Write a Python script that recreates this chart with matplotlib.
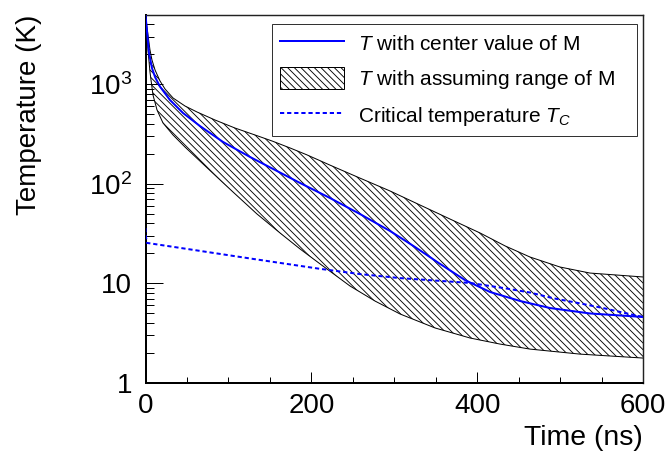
import matplotlib
matplotlib.use("Agg")
import matplotlib.pyplot as plt
from matplotlib.patches import Patch
from matplotlib.lines import Line2D
from matplotlib.ticker import FixedLocator, FixedFormatter, MultipleLocator

# ---------------- data ----------------
t_center = [0, 4.2, 7.8, 11.5, 17.5, 29.5, 45.2, 65.7, 93.5, 126.0, 153.8, 186.3,
            222.5, 258.7, 294.9, 325.0, 355.2, 385.3, 415.5, 451.7, 487.8, 536.1, 600]
T_center = [4950, 2057, 1455, 1180, 945, 694, 514, 380, 263, 186, 141, 102,
            72, 49.7, 33.6, 23.2, 15.7, 10.8, 8.2, 6.66, 5.66, 4.99, 4.6]

t_upper = [0, 3.0, 5.4, 7.8, 11.5, 17.5, 23.5, 33.2, 47.6, 62.1, 83.8, 107.9, 132.1,
           152.6, 174.3, 194.8, 222.5, 258.7, 294.9, 331.1, 367.2, 403.4, 433.6,
           463.7, 499.9, 536.1, 600]
T_upper = [4950, 3120, 2205, 1750, 1389, 1077, 896, 727, 604, 526, 437, 363, 309,
           269, 229, 195, 154, 114, 84.7, 61.2, 44.3, 32.1, 23.8,
           18.4, 14.6, 12.7, 11.6]

t_lower = [0, 3.0, 5.4, 9.0, 13.9, 21.1, 33.2, 47.6, 65.7, 83.8, 105.5, 134.4,
           162.2, 186.3, 210.5, 246.6, 276.8, 307.0, 349.2, 391.4, 427.5, 463.7,
           524.0, 600]
T_lower = [4950, 2205, 1325, 780, 551, 408, 309, 234, 169, 122, 82.8, 49.8,
           32.1, 22.2, 15.7, 9.42, 6.65, 4.93, 3.57, 2.83, 2.46, 2.19,
           1.95, 1.78]

t_crit = [0, 0.3, 1.8, 65.7, 126.0, 210.5, 258.7, 307.0, 355.2, 391.4, 431.2,
          463.7, 491.5, 524.0, 551.8, 578.3, 600]
T_crit = [36, 30, 25.5, 21.2, 17.8, 14.0, 12.4, 11.3, 10.6, 10.1, 9.0,
          8.1, 7.1, 6.3, 5.66, 5.04, 4.6]

x_ticks = [0, 200, 400, 600]
x_tick_labels = ["0", "200", "400", "600"]
y_ticks = [1, 10, 100, 1000]
y_tick_labels = ["1", "10", "$10^{2}$", "$10^{3}$"]

legend_labels = ["$T$ with center value of M",
                 "$T$ with assuming range of M",
                 "Critical temperature $T_{C}$"]

# ---------------- style ----------------
DPI = 80
HATCH = "\\\\\\\\"
plt.rcParams["font.family"] = ["Liberation Sans", "DejaVu Sans"]
plt.rcParams["mathtext.fontset"] = "custom"
plt.rcParams["mathtext.rm"] = "Liberation Sans"
plt.rcParams["mathtext.it"] = "Liberation Sans:italic"
plt.rcParams["mathtext.bf"] = "Liberation Sans:bold"
plt.rcParams["hatch.linewidth"] = 0.8
plt.rcParams["lines.scale_dashes"] = False
DASH = (0, (3.8, 2.6))

fig = plt.figure(figsize=(669 / DPI, 453 / DPI), dpi=DPI)
fig.patch.set_facecolor("white")
ax = fig.add_axes([145.5 / 669, 1 - 383 / 453, (643 - 145.5) / 669, (383 - 15) / 453])

# hatched band between the upper and lower boundaries
poly_t = list(t_upper) + list(t_lower)[::-1]
poly_T = list(T_upper) + list(T_lower)[::-1]
ax.fill(poly_t, poly_T, facecolor="none", edgecolor="black", hatch=HATCH,
        linewidth=0, zorder=1)
ax.plot(t_upper, T_upper, color="black", lw=0.9, zorder=2)
ax.plot(t_lower, T_lower, color="black", lw=0.9, zorder=2)
ax.plot(t_crit, T_crit, color="blue", lw=1.8, linestyle=DASH, zorder=3)
ax.plot(t_center, T_center, color="blue", lw=1.8, zorder=4)

ax.set_yscale("log")
ax.set_xlim(0, 600)
ax.set_ylim(1, 4950)

ax.xaxis.set_major_locator(FixedLocator(x_ticks))
ax.xaxis.set_major_formatter(FixedFormatter(x_tick_labels))
ax.xaxis.set_minor_locator(MultipleLocator(50))
ax.yaxis.set_major_locator(FixedLocator(y_ticks))
ax.yaxis.set_major_formatter(FixedFormatter(y_tick_labels))
minor_y = [m * 10 ** d for d in range(0, 4) for m in range(2, 10) if m * 10 ** d < 4950]
ax.yaxis.set_minor_locator(FixedLocator(minor_y))
ax.yaxis.set_minor_formatter(FixedFormatter([""] * len(minor_y)))

ax.tick_params(axis="both", which="both", direction="in", top=False, right=False,
               width=0.9, color="black", labelsize=25)
ax.tick_params(axis="x", which="major", length=10, pad=9)
ax.tick_params(axis="x", which="minor", length=5)
ax.tick_params(axis="y", which="major", length=15, pad=12)
ax.tick_params(axis="y", which="minor", length=7.5)

for side in ["left", "bottom"]:
    ax.spines[side].set_linewidth(1.8)
for side in ["right", "top"]:
    ax.spines[side].set_linewidth(1.3)
    ax.spines[side].set_color("#222222")

ax.set_xlabel("Time (ns)", fontsize=25.5, loc="right")
ax.xaxis.set_label_coords(1.0, -0.113)
ax.xaxis.label.set_va("top")
ax.set_ylabel("Temperature (K)", fontsize=25, loc="top")
ax.yaxis.set_label_coords(-0.209, 1.0)

handles = [Line2D([], [], color="blue", lw=1.8),
           Patch(facecolor="white", edgecolor="black", hatch=HATCH, linewidth=0.9),
           Line2D([], [], color="blue", lw=1.8, linestyle=DASH)]
leg = ax.legend(handles, legend_labels, fontsize=18.8, frameon=True, fancybox=False,
                shadow=False, framealpha=1, edgecolor="#333333",
                loc="upper left",
                bbox_to_anchor=(272 / 669, 1 - 134 / 453, 365 / 669, 110 / 453),
                bbox_transform=fig.transFigure, borderaxespad=0, mode="expand",
                handlelength=3.06, handleheight=1.22, handletextpad=0.67,
                labelspacing=0.62, borderpad=0.4)
leg.get_frame().set_linewidth(0.9)

fig.savefig("out.png", dpi=DPI, facecolor="white")
